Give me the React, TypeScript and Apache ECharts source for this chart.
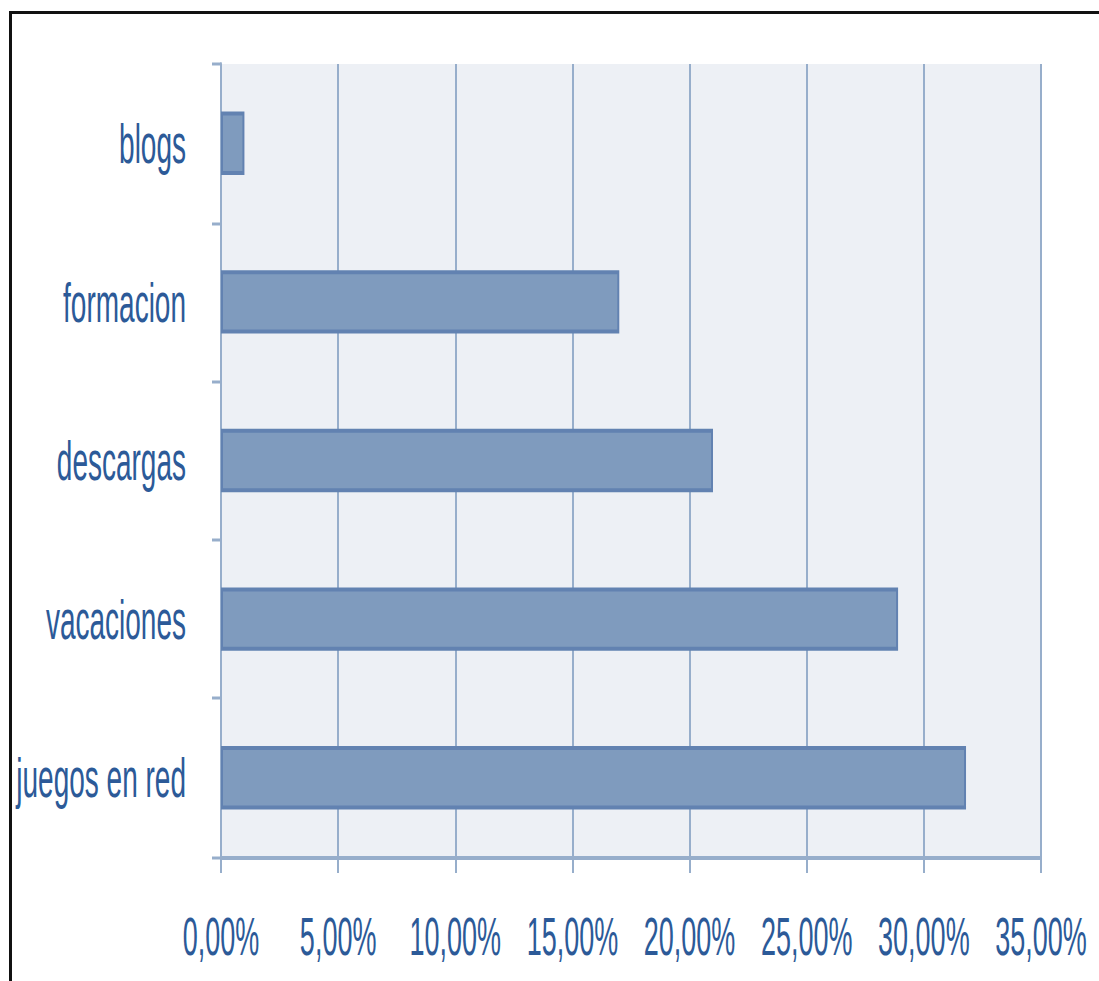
import React, { useEffect, useRef } from "react";
import * as echarts from "echarts";

const categories = ["juegos en red", "vacaciones", "descargas", "formacion", "blogs"];
const values = [31.8, 28.9, 21.0, 17.0, 1.0];
const axisMin = 0;
const axisMax = 35;
const axisStep = 5;

const TEXT = "#2C5A98";
const LINE = "#97AECB";

export default function App() {
  const ref = useRef<HTMLDivElement>(null);
  useEffect(() => {
    if (!ref.current) return;
    const chart = echarts.init(ref.current, undefined, { renderer: "svg" });
    chart.setOption({
      animation: false,
      grid: {
        left: 221,
        right: 58,
        top: 32,
        bottom: 61.5,
        show: true,
        backgroundColor: "#EDF0F5",
        borderWidth: 0,
      },
      xAxis: {
        type: "value",
        min: axisMin,
        max: axisMax,
        interval: axisStep,
        axisLine: { show: true, lineStyle: { color: LINE, width: 2 } },
        axisTick: { show: true, length: 8, lineStyle: { color: LINE, width: 2 } },
        splitLine: { show: true, lineStyle: { color: LINE, width: 2 } },
        axisLabel: {
          color: TEXT,
          fontSize: 27,
          fontFamily: "'Liberation Sans', Arial, sans-serif",
          margin: 26,
          formatter: (v: number) => v.toFixed(2).replace(".", ",") + "%",
        },
      },
      yAxis: {
        type: "category",
        data: categories,
        axisLine: { show: true, lineStyle: { color: LINE, width: 2 } },
        axisTick: { show: true, length: 9, lineStyle: { color: LINE, width: 1.5 } },
        splitLine: { show: false },
        axisLabel: {
          color: TEXT,
          fontSize: 28,
          fontFamily: "'Liberation Sans', Arial, sans-serif",
          margin: 35,
        },
      },
      series: [
        {
          type: "bar",
          data: values,
          barWidth: "40%",
          itemStyle: {
            color: "#7F9BBE",
            borderColor: "#6282B1",
            borderWidth: 2,
          },
        },
      ],
    });
    return () => chart.dispose();
  }, []);

  return (
    <div
      style={{
        position: "fixed",
        left: 0,
        top: 0,
        width: 1099,
        height: 981,
        overflow: "hidden",
        background: "#fff",
      }}
    >
      <div
        style={{
          position: "absolute",
          left: 9,
          top: 11,
          width: 1200,
          height: 1100,
          border: "3px solid #111",
          boxSizing: "border-box",
        }}
      />
      <div
        ref={ref}
        style={{
          position: "absolute",
          left: 0,
          top: 0,
          width: 1099,
          height: 490,
          transform: "scaleY(2)",
          transformOrigin: "0 0",
        }}
      />
    </div>
  );
}
